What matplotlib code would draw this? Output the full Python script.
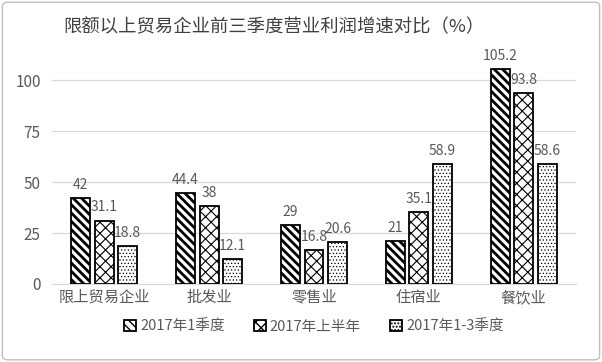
import numpy as np
import matplotlib
import matplotlib.pyplot as plt
from matplotlib.patches import FancyBboxPatch

plt.rcParams['font.family'] = ['Noto Sans CJK SC', 'DejaVu Sans']
plt.rcParams['hatch.linewidth'] = 1.0

categories = ['限上贸易企业', '批发业', '零售业', '住宿业', '餐饮业']
series_names = ['2017年1季度', '2017年上半年', '2017年1-3季度']
q1 = [42, 44.4, 29, 21, 105.2]
h1 = [31.1, 38, 16.8, 35.1, 93.8]
q3 = [18.8, 12.1, 20.6, 58.9, 58.6]
yticks = [0, 25, 50, 75, 100]

grey = '#595959'
fig = plt.figure(figsize=(6.02, 3.62), dpi=100)
ax = fig.add_axes([0.086, 0.2155, 0.871, 0.627])

x = np.arange(len(categories))
w = 0.18
step = 0.225
hatches = ['\\\\\\\\', 'xxx', '.....']
hatch_lw = [2.0, 0.8, 0.5]
for i, (vals, hat, name) in enumerate(zip([q1, h1, q3], hatches, series_names)):
    bars = ax.bar(x + (i - 1) * step, vals, w, color='white', edgecolor='black',
                  linewidth=1.3, hatch=hat, label=name, zorder=3)
    for b in bars:
        if hasattr(b, 'set_hatch_linewidth'):
            b.set_hatch_linewidth(hatch_lw[i])
    for b, v in zip(bars, vals):
        ax.text(b.get_x() + b.get_width() / 2, v + 3, '%g' % v, ha='center', va='bottom',
                fontsize=10, color=grey)

ax.set_xlim(-0.5, 4.5)
ax.set_ylim(0, 111.3)
ax.set_yticks(yticks)
ax.set_xticks(x)
ax.set_xticklabels(categories)
ax.tick_params(axis='both', length=0, labelsize=11, colors=grey)
ax.tick_params(axis='y', pad=8)
ax.grid(axis='y', color='#d9d9d9', linewidth=0.9, zorder=0)
for s in ['top', 'right', 'left']:
    ax.spines[s].set_visible(False)
ax.spines['bottom'].set_color('#d9d9d9')

fig.text(0.455, 0.925, '限额以上贸易企业前三季度营业利润增速对比（%）', ha='center', va='center',
         fontsize=13.2, color='#404040')

leg = ax.legend(loc='upper center', bbox_to_anchor=(0.5, -0.1), ncol=3, frameon=False,
                fontsize=10.5, handlelength=0.8, handleheight=0.8, columnspacing=2.0,
                handletextpad=0.3)
for t in leg.get_texts():
    t.set_color(grey)

border = FancyBboxPatch((0.004, 0.006), 0.992, 0.988, boxstyle='round,pad=0,rounding_size=0.01',
                        transform=fig.transFigure, fill=False, edgecolor='#bfbfbf', linewidth=1)
fig.patches.append(border)

fig.savefig('out.png', dpi=100)
